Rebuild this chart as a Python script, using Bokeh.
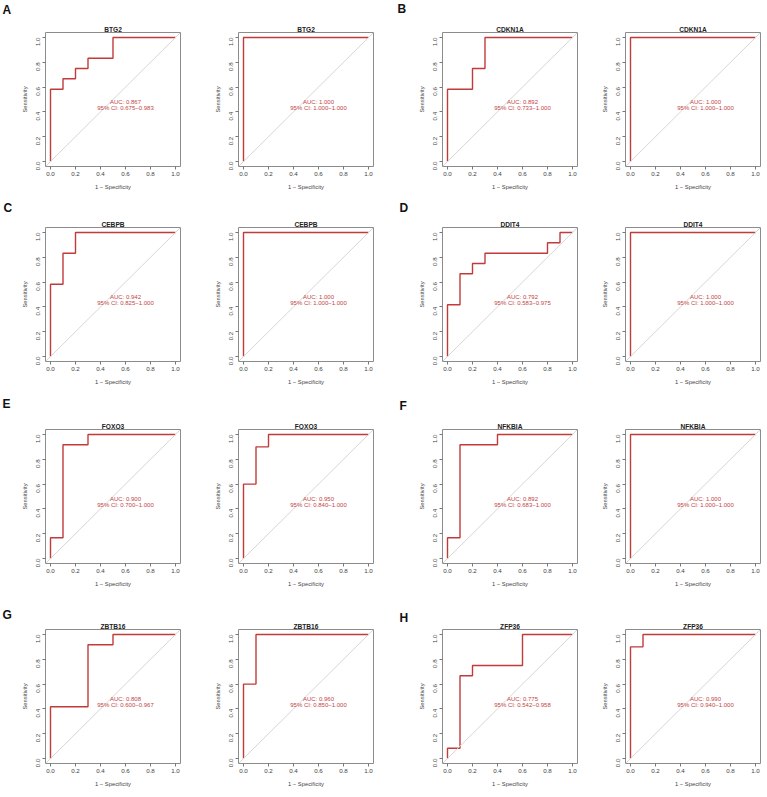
import math
from bokeh.plotting import figure
from bokeh.layouts import column, row
from bokeh.models import Range1d, FixedTicker, Label, Slope, Title
from bokeh.embed import file_html
from bokeh.resources import INLINE

# ---------------- data ----------------
panel_genes = ["BTG2", "BTG2", "CDKN1A", "CDKN1A",
               "CEBPB", "CEBPB", "DDIT4", "DDIT4",
               "FOXO3", "FOXO3", "NFKBIA", "NFKBIA",
               "ZBTB16", "ZBTB16", "ZFP36", "ZFP36"]
panel_letters = ["A", "", "B", "", "C", "", "D", "", "E", "", "F", "", "G", "", "H", ""]
auc_values = [0.867, 1.000, 0.892, 1.000,
              0.942, 1.000, 0.792, 1.000,
              0.900, 0.950, 0.892, 1.000,
              0.808, 0.960, 0.775, 0.990]
ci_lower = [0.675, 1.000, 0.733, 1.000,
            0.825, 1.000, 0.583, 1.000,
            0.700, 0.840, 0.683, 1.000,
            0.600, 0.850, 0.542, 0.940]
ci_upper = [0.983, 1.000, 1.000, 1.000,
            1.000, 1.000, 0.975, 1.000,
            1.000, 1.000, 1.000, 1.000,
            0.967, 1.000, 0.958, 1.000]

fpr_btg2_1 = [0, 0, 0.1, 0.1, 0.2, 0.2, 0.3, 0.3, 0.5, 0.5, 1.0]
tpr_btg2_1 = [0, 0.583, 0.583, 0.667, 0.667, 0.75, 0.75, 0.833, 0.833, 1.0, 1.0]
fpr_btg2_2 = [0, 0, 1.0]
tpr_btg2_2 = [0, 1.0, 1.0]
fpr_cdkn1a_1 = [0, 0, 0.2, 0.2, 0.3, 0.3, 1.0]
tpr_cdkn1a_1 = [0, 0.583, 0.583, 0.75, 0.75, 1.0, 1.0]
fpr_cdkn1a_2 = [0, 0, 1.0]
tpr_cdkn1a_2 = [0, 1.0, 1.0]
fpr_cebpb_1 = [0, 0, 0.1, 0.1, 0.2, 0.2, 1.0]
tpr_cebpb_1 = [0, 0.583, 0.583, 0.833, 0.833, 1.0, 1.0]
fpr_cebpb_2 = [0, 0, 1.0]
tpr_cebpb_2 = [0, 1.0, 1.0]
fpr_ddit4_1 = [0, 0, 0.1, 0.1, 0.2, 0.2, 0.3, 0.3, 0.8, 0.8, 0.9, 0.9, 1.0]
tpr_ddit4_1 = [0, 0.417, 0.417, 0.667, 0.667, 0.75, 0.75, 0.833, 0.833, 0.917, 0.917, 1.0, 1.0]
fpr_ddit4_2 = [0, 0, 1.0]
tpr_ddit4_2 = [0, 1.0, 1.0]
fpr_foxo3_1 = [0, 0, 0.1, 0.1, 0.3, 0.3, 1.0]
tpr_foxo3_1 = [0, 0.167, 0.167, 0.917, 0.917, 1.0, 1.0]
fpr_foxo3_2 = [0, 0, 0.1, 0.1, 0.2, 0.2, 1.0]
tpr_foxo3_2 = [0, 0.6, 0.6, 0.9, 0.9, 1.0, 1.0]
fpr_nfkbia_1 = [0, 0, 0.1, 0.1, 0.4, 0.4, 1.0]
tpr_nfkbia_1 = [0, 0.167, 0.167, 0.917, 0.917, 1.0, 1.0]
fpr_nfkbia_2 = [0, 0, 1.0]
tpr_nfkbia_2 = [0, 1.0, 1.0]
fpr_zbtb16_1 = [0, 0, 0.3, 0.3, 0.5, 0.5, 1.0]
tpr_zbtb16_1 = [0, 0.417, 0.417, 0.917, 0.917, 1.0, 1.0]
fpr_zbtb16_2 = [0, 0, 0.1, 0.1, 1.0]
tpr_zbtb16_2 = [0, 0.6, 0.6, 1.0, 1.0]
fpr_zfp36_1 = [0, 0, 0.1, 0.1, 0.2, 0.2, 0.6, 0.6, 1.0]
tpr_zfp36_1 = [0, 0.083, 0.083, 0.667, 0.667, 0.75, 0.75, 1.0, 1.0]
fpr_zfp36_2 = [0, 0, 0.1, 0.1, 1.0]
tpr_zfp36_2 = [0, 0.9, 0.9, 1.0, 1.0]

roc_fpr = [fpr_btg2_1, fpr_btg2_2, fpr_cdkn1a_1, fpr_cdkn1a_2,
           fpr_cebpb_1, fpr_cebpb_2, fpr_ddit4_1, fpr_ddit4_2,
           fpr_foxo3_1, fpr_foxo3_2, fpr_nfkbia_1, fpr_nfkbia_2,
           fpr_zbtb16_1, fpr_zbtb16_2, fpr_zfp36_1, fpr_zfp36_2]
roc_tpr = [tpr_btg2_1, tpr_btg2_2, tpr_cdkn1a_1, tpr_cdkn1a_2,
           tpr_cebpb_1, tpr_cebpb_2, tpr_ddit4_1, tpr_ddit4_2,
           tpr_foxo3_1, tpr_foxo3_2, tpr_nfkbia_1, tpr_nfkbia_2,
           tpr_zbtb16_1, tpr_zbtb16_2, tpr_zfp36_1, tpr_zfp36_2]

tick_values = [0.0, 0.2, 0.4, 0.6, 0.8, 1.0]
tick_labels = ["0.0", "0.2", "0.4", "0.6", "0.8", "1.0"]

# ---------------- layout / style ----------------
FONT = "Liberation Sans"
LINE_COLOR = "#C23B3B"
TEXT_COLOR = "#C24545"
FW, FH = 135, 134
XR = (-0.04, 1.04)
YR = (-0.04, 1.04)
BB = 29

col_lefts = [45, 238, 442, 625]                 # frame left of each column
row_frame_tops = [32, 227, 429, 629]            # frame top of each row
row_bts = [32, 32, 39, 37]                      # top border of each row
letter_xy = [[(2, 9), (397, 8)], [(3, 207), (399, 207)],
             [(2, 403), (399, 405)], [(2, 614), (399, 617)]]

bounds = [0, col_lefts[1] - 36, col_lefts[2] - 46, col_lefts[3] - 36, col_lefts[3] + FW + 3]


def make_panel(i, bl, br, bt, L, T, lxy):
    p = figure(width=bl + FW + br, height=bt + FH + BB,
               x_range=Range1d(*XR), y_range=Range1d(*YR),
               output_backend="svg", toolbar_location=None,
               min_border_left=bl, min_border_right=br,
               min_border_top=bt, min_border_bottom=BB,
               title=None)
    p.add_layout(Title(text=panel_genes[i], align="center", text_font=FONT,
                       text_font_size="6.6px", text_font_style="bold",
                       text_color="#222222", standoff=0), "above")
    if panel_letters[i]:
        lx, ly = lxy
        xd = XR[0] + (lx - L) * (XR[1] - XR[0]) / FW
        yd = YR[1] + (T - ly) * (YR[1] - YR[0]) / FH
        p.add_layout(Label(x=xd, y=yd, x_units="data", y_units="data",
                           text=panel_letters[i], text_align="left", text_baseline="middle",
                           text_font=FONT, text_font_size="12px", text_font_style="bold",
                           text_color="#111111"), "left")
    p.grid.grid_line_color = None
    p.outline_line_color = "#8c8c8c"
    p.outline_line_width = 1
    p.background_fill_color = "white"
    p.border_fill_color = "white"

    for ax in (p.xaxis[0], p.yaxis[0]):
        ax.ticker = FixedTicker(ticks=tick_values)
        ax.major_label_overrides = {v: t for v, t in zip(tick_values, tick_labels)}
        ax.major_label_text_font = FONT
        ax.major_label_text_font_size = "6.2px"
        ax.major_label_text_color = "#444444"
        ax.major_tick_in = 0
        ax.major_tick_out = 3
        ax.major_tick_line_color = "#777777"
        ax.minor_tick_line_color = None
        ax.axis_line_color = None
        ax.axis_label_text_font = FONT
        ax.axis_label_text_font_size = "5.8px"
        ax.axis_label_text_font_style = "normal"
        ax.axis_label_text_color = "#444444"
    p.xaxis.axis_label = "1 \u2212 Specificity"
    p.yaxis.axis_label = "Sensitivity"
    p.xaxis.major_label_standoff = 2
    p.xaxis.axis_label_standoff = 5
    p.yaxis.major_label_standoff = 4
    p.yaxis.axis_label_standoff = 4
    p.yaxis.major_label_orientation = math.pi / 2

    p.add_layout(Slope(gradient=1, y_intercept=0, line_color="#d6d6d6", line_width=1))
    p.line(roc_fpr[i], roc_tpr[i], line_color=LINE_COLOR, line_width=1.4)

    p.add_layout(Label(x=0.6, y=0.478, text="AUC: %.3f" % auc_values[i],
                       text_align="center", text_baseline="middle",
                       text_font=FONT, text_font_size="6px", text_color=TEXT_COLOR))
    p.add_layout(Label(x=0.6, y=0.43, text="95%% CI: %.3f\u2212%.3f" % (ci_lower[i], ci_upper[i]),
                       text_align="center", text_baseline="middle",
                       text_font=FONT, text_font_size="6px", text_color=TEXT_COLOR))
    return p


rows = []
for r in range(4):
    figs = []
    for c in range(4):
        i = r * 4 + c
        L = col_lefts[c]
        bl = L - bounds[c]
        br = bounds[c + 1] - L - FW
        lxy = letter_xy[r][0] if c == 0 else (letter_xy[r][1] if c == 2 else None)
        figs.append(make_panel(i, bl, br, row_bts[r], L, row_frame_tops[r], lxy))
    rows.append(row(*figs, spacing=0))

layout = column(*rows, spacing=0)
open("out.html", "w").write(file_html(layout, INLINE))
